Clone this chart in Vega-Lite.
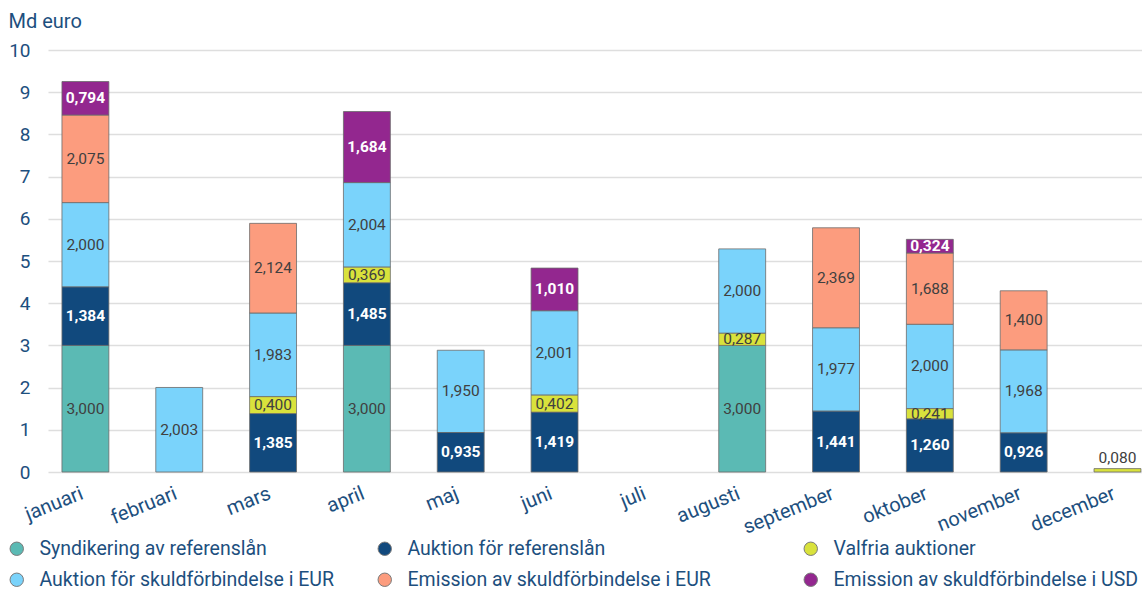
{
  "$schema": "https://vega.github.io/schema/vega-lite/v6.json",
  "width": 1094,
  "height": 422,
  "autosize": "none",
  "padding": {"left": 48, "top": 50, "right": 0, "bottom": 117},
  "background": "white",
  "config": {
    "font": "Roboto",
    "view": {"stroke": null},
    "locale": {"number": {"decimal": ",", "thousands": "\u00a0", "grouping": [3], "currency": ["", " €"]}},
    "axisY": {
      "domain": false,
      "ticks": false,
      "grid": true,
      "gridColor": "#dedede",
      "gridWidth": 1.5,
      "tickCount": 10,
      "labelFontSize": 19,
      "labelColor": "#1d4f7e",
      "labelPadding": 18,
      "titleAngle": 0,
      "titleAlign": "left",
      "titleBaseline": "alphabetic",
      "titleX": -40,
      "titleY": -23,
      "titleFontSize": 20,
      "titleFontWeight": "normal",
      "titleColor": "#1d4f7e"
    },
    "axisX": {
      "domain": false,
      "ticks": false,
      "grid": false,
      "title": null,
      "labelAngle": -22,
      "labelAlign": "right",
      "labelBaseline": "top",
      "labelPadding": 11,
      "labelOffset": -7,
      "labelFontSize": 20,
      "labelColor": "#1d4f7e"
    },
    "legend": {
      "orient": "none",
      "title": null,
      "direction": "vertical",
      "padding": 0,
      "symbolType": "circle",
      "symbolSize": 180,
      "symbolStrokeColor": "#7a7a7a",
      "symbolStrokeWidth": 1,
      "labelFontSize": 19.5,
      "labelColor": "#1d4f7e",
      "labelOffset": 13,
      "labelLimit": 400,
      "rowPadding": 10
    }
  },
  "data": {
    "values": [
      {"month": "januari", "cat": "Syndikering av referenslån", "order": 1, "value": 3.000},
      {"month": "januari", "cat": "Auktion för referenslån", "order": 2, "value": 1.384},
      {"month": "januari", "cat": "Auktion för skuldförbindelse i EUR", "order": 4, "value": 2.000},
      {"month": "januari", "cat": "Emission av skuldförbindelse i EUR", "order": 5, "value": 2.075},
      {"month": "januari", "cat": "Emission av skuldförbindelse i USD", "order": 6, "value": 0.794},
      {"month": "februari", "cat": "Auktion för skuldförbindelse i EUR", "order": 4, "value": 2.003},
      {"month": "mars", "cat": "Auktion för referenslån", "order": 2, "value": 1.385},
      {"month": "mars", "cat": "Valfria auktioner", "order": 3, "value": 0.400},
      {"month": "mars", "cat": "Auktion för skuldförbindelse i EUR", "order": 4, "value": 1.983},
      {"month": "mars", "cat": "Emission av skuldförbindelse i EUR", "order": 5, "value": 2.124},
      {"month": "april", "cat": "Syndikering av referenslån", "order": 1, "value": 3.000},
      {"month": "april", "cat": "Auktion för referenslån", "order": 2, "value": 1.485},
      {"month": "april", "cat": "Valfria auktioner", "order": 3, "value": 0.369},
      {"month": "april", "cat": "Auktion för skuldförbindelse i EUR", "order": 4, "value": 2.004},
      {"month": "april", "cat": "Emission av skuldförbindelse i USD", "order": 6, "value": 1.684},
      {"month": "maj", "cat": "Auktion för referenslån", "order": 2, "value": 0.935},
      {"month": "maj", "cat": "Auktion för skuldförbindelse i EUR", "order": 4, "value": 1.950},
      {"month": "juni", "cat": "Auktion för referenslån", "order": 2, "value": 1.419},
      {"month": "juni", "cat": "Valfria auktioner", "order": 3, "value": 0.402},
      {"month": "juni", "cat": "Auktion för skuldförbindelse i EUR", "order": 4, "value": 2.001},
      {"month": "juni", "cat": "Emission av skuldförbindelse i USD", "order": 6, "value": 1.010},
      {"month": "augusti", "cat": "Syndikering av referenslån", "order": 1, "value": 3.000},
      {"month": "augusti", "cat": "Valfria auktioner", "order": 3, "value": 0.287},
      {"month": "augusti", "cat": "Auktion för skuldförbindelse i EUR", "order": 4, "value": 2.000},
      {"month": "september", "cat": "Auktion för referenslån", "order": 2, "value": 1.441},
      {"month": "september", "cat": "Auktion för skuldförbindelse i EUR", "order": 4, "value": 1.977},
      {"month": "september", "cat": "Emission av skuldförbindelse i EUR", "order": 5, "value": 2.369},
      {"month": "oktober", "cat": "Auktion för referenslån", "order": 2, "value": 1.260},
      {"month": "oktober", "cat": "Valfria auktioner", "order": 3, "value": 0.241},
      {"month": "oktober", "cat": "Auktion för skuldförbindelse i EUR", "order": 4, "value": 2.000},
      {"month": "oktober", "cat": "Emission av skuldförbindelse i EUR", "order": 5, "value": 1.688},
      {"month": "oktober", "cat": "Emission av skuldförbindelse i USD", "order": 6, "value": 0.324},
      {"month": "november", "cat": "Auktion för referenslån", "order": 2, "value": 0.926},
      {"month": "november", "cat": "Auktion för skuldförbindelse i EUR", "order": 4, "value": 1.968},
      {"month": "november", "cat": "Emission av skuldförbindelse i EUR", "order": 5, "value": 1.400},
      {"month": "december", "cat": "Valfria auktioner", "order": 3, "value": 0.080}
    ]
  },
  "transform": [
    {"stack": "value", "groupby": ["month"], "sort": [{"field": "order", "order": "ascending"}], "as": ["y0", "y1"]},
    {"calculate": "(datum.y0 + datum.y1) / 2", "as": "ymid"}
  ],
  "encoding": {
    "x": {
      "field": "month",
      "type": "nominal",
      "sort": ["januari", "februari", "mars", "april", "maj", "juni", "juli", "augusti", "september", "oktober", "november", "december"],
      "scale": {
        "domain": ["januari", "februari", "mars", "april", "maj", "juni", "juli", "augusti", "september", "oktober", "november", "december"],
        "paddingInner": 0.5,
        "paddingOuter": 0.08,
        "align": 0.93
      }
    }
  },
  "layer": [
    {
      "transform": [{"filter": "datum.order === 1 || datum.order === 4"}],
      "mark": {"type": "bar", "stroke": "#6b6b6b", "strokeWidth": 0.8},
      "encoding": {
        "y": {"field": "y1", "type": "quantitative", "title": "Md euro", "scale": {"domain": [0, 10]}},
        "y2": {"field": "y0"},
        "color": {
          "field": "cat",
          "type": "nominal",
          "scale": {"domain": ["Syndikering av referenslån", "Auktion för skuldförbindelse i EUR"], "range": ["#5bbab4", "#7ad3fb"]},
          "legend": {"legendX": -41, "legendY": 489}
        }
      }
    },
    {
      "transform": [{"filter": "datum.order === 2 || datum.order === 5"}],
      "mark": {"type": "bar", "stroke": "#6b6b6b", "strokeWidth": 0.8},
      "encoding": {
        "y": {"field": "y1", "type": "quantitative", "title": "Md euro", "scale": {"domain": [0, 10]}},
        "y2": {"field": "y0"},
        "color": {
          "field": "cat",
          "type": "nominal",
          "scale": {"domain": ["Auktion för referenslån", "Emission av skuldförbindelse i EUR"], "range": ["#11497d", "#fc9c7e"]},
          "legend": {"legendX": 327, "legendY": 489}
        }
      }
    },
    {
      "transform": [{"filter": "datum.order === 3 || datum.order === 6"}],
      "mark": {"type": "bar", "stroke": "#6b6b6b", "strokeWidth": 0.8},
      "encoding": {
        "y": {"field": "y1", "type": "quantitative", "title": "Md euro", "scale": {"domain": [0, 10]}},
        "y2": {"field": "y0"},
        "color": {
          "field": "cat",
          "type": "nominal",
          "scale": {"domain": ["Valfria auktioner", "Emission av skuldförbindelse i USD"], "range": ["#d9e23c", "#93278f"]},
          "legend": {"legendX": 753, "legendY": 489}
        }
      }
    },
    {
      "transform": [{"filter": "datum.order !== 2 && datum.order !== 6 && datum.value >= 0.1"}],
      "mark": {"type": "text", "fontSize": 15.5, "color": "#404040", "baseline": "middle"},
      "encoding": {
        "y": {"field": "ymid", "type": "quantitative", "title": "Md euro"},
        "text": {"field": "value", "type": "quantitative", "format": ".3f"}
      }
    },
    {
      "transform": [{"filter": "datum.order === 2 || datum.order === 6"}],
      "mark": {"type": "text", "fontSize": 15.5, "fontWeight": "bold", "color": "white", "baseline": "middle"},
      "encoding": {
        "y": {"field": "ymid", "type": "quantitative", "title": "Md euro"},
        "text": {"field": "value", "type": "quantitative", "format": ".3f"}
      }
    },
    {
      "transform": [{"filter": "datum.value < 0.1"}],
      "mark": {"type": "text", "fontSize": 15.5, "color": "#404040", "baseline": "bottom", "dy": -3},
      "encoding": {
        "y": {"field": "y1", "type": "quantitative", "title": "Md euro"},
        "text": {"field": "value", "type": "quantitative", "format": ".3f"}
      }
    }
  ],
  "resolve": {"scale": {"color": "independent"}}
}
